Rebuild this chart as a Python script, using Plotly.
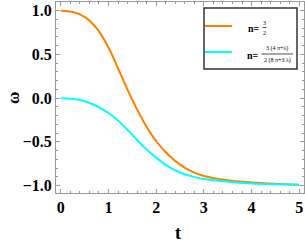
import plotly.graph_objects as go

# data
t = [0, 0.25, 0.5, 0.75, 1.0, 1.25, 1.5, 1.75, 2.0, 2.25, 2.5, 2.75, 3.0, 3.5, 4.0, 4.5, 5.0]
omega_a = [1.0, 0.985, 0.93, 0.80, 0.58, 0.28, -0.02, -0.28, -0.49, -0.645, -0.76, -0.84, -0.89, -0.94, -0.965, -0.98, -0.99]
omega_b = [0.0, -0.007, -0.035, -0.09, -0.17, -0.28, -0.42, -0.56, -0.68, -0.78, -0.85, -0.895, -0.925, -0.955, -0.975, -0.985, -0.99]
x_ticks = [0, 1, 2, 3, 4, 5]
y_ticks = [-1.0, -0.5, 0.0, 0.5, 1.0]
y_tick_text = ["\u22121.0", "\u22120.5", "0.0", "0.5", "1.0"]

ORANGE = "#FF8000"
CYAN = "#00FFFF"
FRAME = "#9a9a9a"
SERIF = "Liberation Serif"

fig = go.Figure()
fig.add_trace(go.Scatter(x=t, y=omega_a, mode="lines", line=dict(color=ORANGE, width=2, shape="spline", smoothing=1.0), showlegend=False))
fig.add_trace(go.Scatter(x=t, y=omega_b, mode="lines", line=dict(color=CYAN, width=2, shape="spline", smoothing=1.0), showlegend=False))

# plot area in px: x 56..304, y 2..193
L, R, T, B = 56, 304, 2, 193
W, H = 305, 249
def px(xp):
    return (xp - L) / (R - L)
def py(yp):
    return (B - yp) / (B - T)

axis_common = dict(showline=True, linecolor=FRAME, linewidth=1, mirror="ticks",
                   ticks="inside", tickcolor=FRAME, ticklen=4, tickwidth=1,
                   showgrid=False, zeroline=False, automargin=False,
                   tickfont=dict(family=SERIF, size=16, color="black", weight="bold"))

fig.update_xaxes(range=[-0.1, 5.1], tickvals=x_ticks, ticktext=[str(v) for v in x_ticks],
                 minor=dict(ticks="inside", ticklen=2, tickcolor=FRAME, dtick=0.2, tick0=0, showgrid=False),
                 **axis_common)
fig.update_yaxes(range=[-1.085, 1.1], tickvals=y_ticks, ticktext=y_tick_text,
                 minor=dict(ticks="inside", ticklen=2, tickcolor=FRAME, dtick=0.1, tick0=0, showgrid=False),
                 **axis_common)

shapes = []
# legend box
shapes.append(dict(type="rect", xref="paper", yref="paper", x0=px(204), x1=px(297), y0=py(69), y1=py(8),
                   line=dict(color="#333333", width=1.5), fillcolor="white", layer="above"))
shapes.append(dict(type="line", xref="paper", yref="paper", x0=px(205), x1=px(232), y0=py(26), y1=py(26),
                   line=dict(color=ORANGE, width=2), layer="above"))
shapes.append(dict(type="line", xref="paper", yref="paper", x0=px(205), x1=px(232), y0=py(52), y1=py(52),
                   line=dict(color=CYAN, width=2), layer="above"))
# fraction bars
shapes.append(dict(type="line", xref="paper", yref="paper", x0=px(262.5), x1=px(266.5), y0=py(27.5), y1=py(27.5),
                   line=dict(color="black", width=0.7), layer="above"))
shapes.append(dict(type="line", xref="paper", yref="paper", x0=px(261.5), x1=px(293), y0=py(54), y1=py(54),
                   line=dict(color="black", width=0.7), layer="above"))

def ann(text, x, y, size, xanchor="center", bold=False, angle=0):
    return dict(text=text, xref="paper", yref="paper", x=px(x), y=py(y), showarrow=False,
                xanchor=xanchor, yanchor="middle", textangle=angle,
                font=dict(family=SERIF, size=size, color="black", weight="bold" if bold else "normal"))

annotations = [
    ann("n=", 262, 28, 10, xanchor="right", bold=True),
    ann("3", 264.5, 23, 6),
    ann("2", 264.5, 32.5, 6),
    ann("n=", 261, 55, 10, xanchor="right", bold=True),
    ann("3 (4 \u03c0+\u03bb)", 277, 48, 6),
    ann("2 (8 \u03c0+3 \u03bb)", 277, 60, 6),
    # axis titles
    ann("t", 178, 233, 18, bold=True),
    ann("\u03c9", 13, 98, 17, bold=True, angle=-90),
]

fig.update_layout(width=W, height=H, margin=dict(l=L, r=W - R, t=T, b=H - B),
                  paper_bgcolor="white", plot_bgcolor="white",
                  shapes=shapes, annotations=annotations, showlegend=False)

fig.write_html("out.html", config={"displayModeBar": False},
               post_script="document.body.style.margin='0';document.body.style.overflow='hidden';")
